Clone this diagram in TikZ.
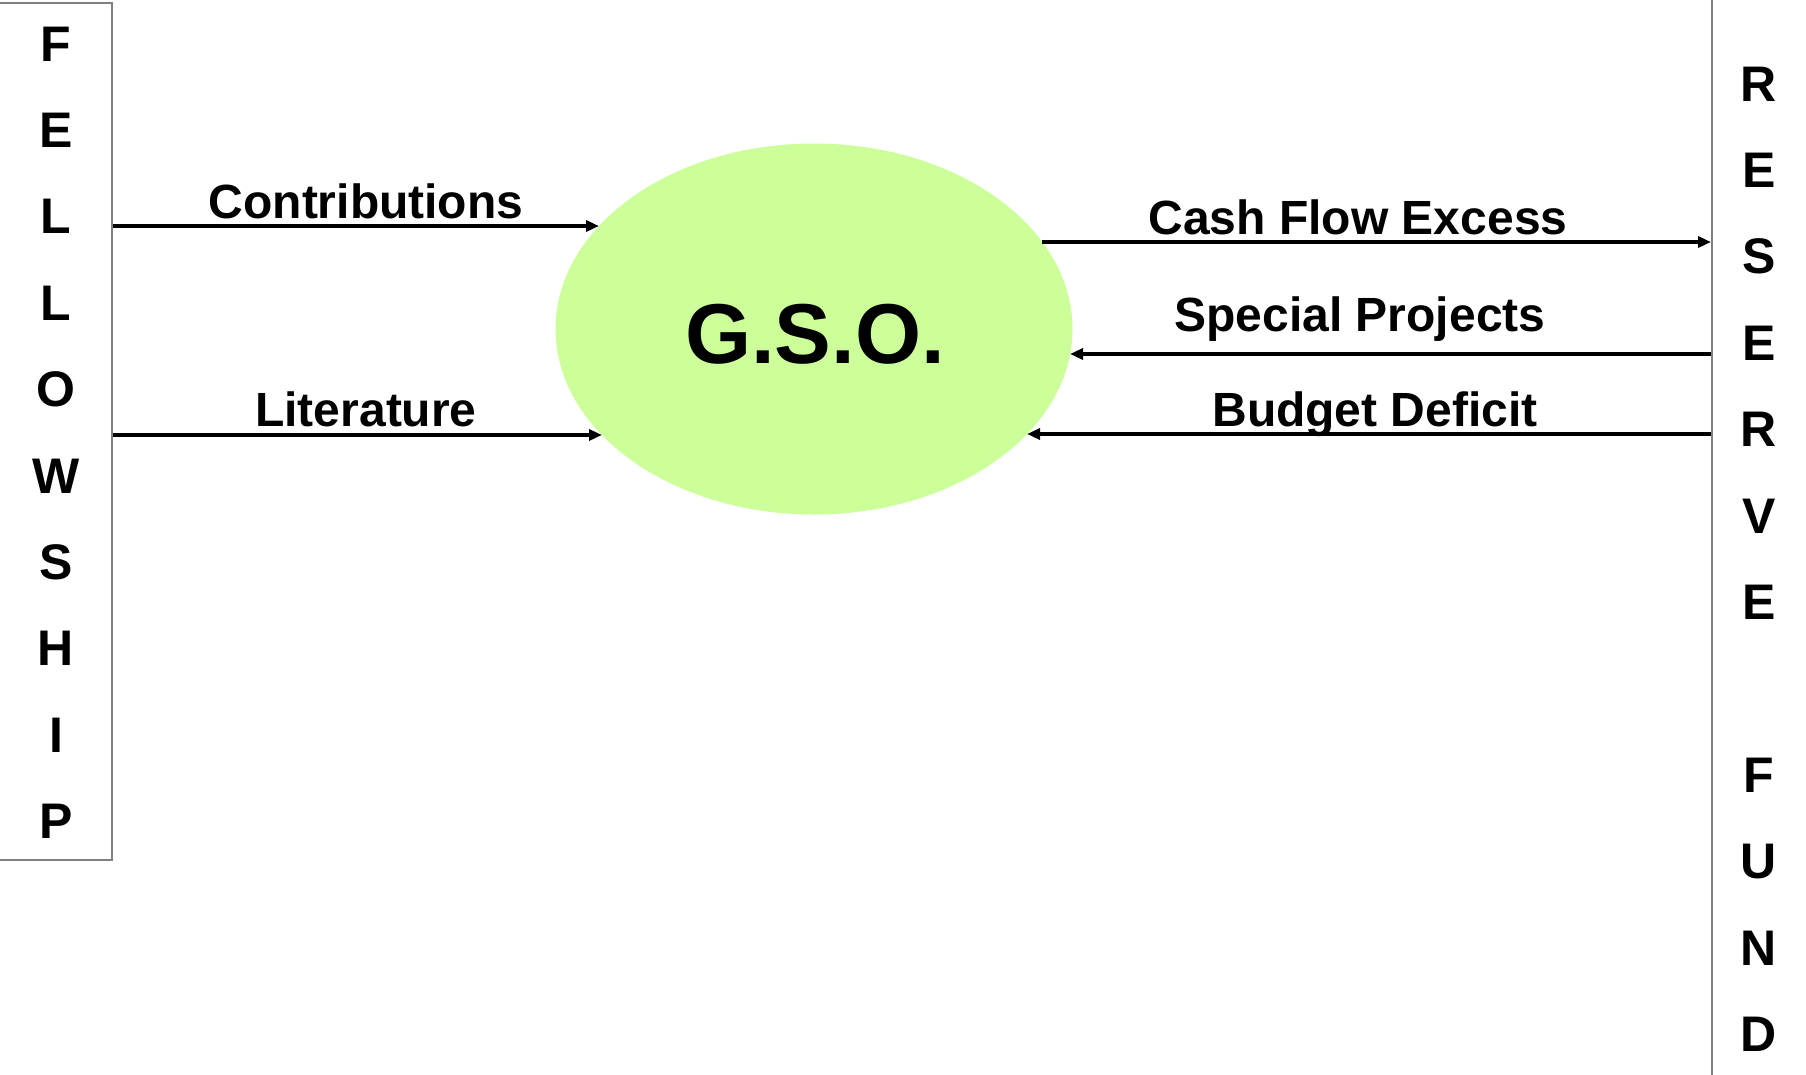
\documentclass[tikz,border=0pt]{standalone}
\usepackage{fontspec}
\setmainfont{Liberation Sans}
\usetikzlibrary{arrows.meta,shapes.geometric}
\definecolor{gsogreen}{RGB}{204,255,153}
\definecolor{boxgray}{RGB}{128,128,128}
\begin{document}
\begin{tikzpicture}[x=1pt,y=1pt,
  flow/.style={line width=3.4pt,-{Triangle[length=13pt,width=11pt]}},
  lbl/.style={font=\fontsize{48}{50}\selectfont\bfseries, anchor=base, inner sep=0pt},
  letter/.style={font=\fontsize{50}{52}\selectfont\bfseries, anchor=base, inner sep=0pt},
  sidebox/.style={draw=boxgray, line width=2pt, inner sep=0pt, anchor=north west}]
\clip (0,0) rectangle (1806,-1074);
\fill[white] (0,0) rectangle (1806,-1074);
% side boxes
\node[sidebox, minimum width=116pt, minimum height=857pt] (fel) at (-5,-2) {};
\node[sidebox, minimum width=200pt, minimum height=1200pt] (res) at (1711,10) {};
% vertical letters
\foreach \l [count=\i] in {F,E,L,L,O,W,S,H,I,P}
  \node[letter] (fl\i) at (56,{-61-86.4*(\i-1)}) {\l};
\foreach \l [count=\i] in {R,E,S,E,R,V,E}
  \node[letter] (rl\i) at (1759,{-101-86.4*(\i-1)}) {\l};
\foreach \l [count=\i from 9] in {F,U,N,D}
  \node[letter] (rl\i) at (1759,{-101-86.4*(\i-1)}) {\l};
% central ellipse
\node[ellipse, fill=gsogreen, minimum width=517pt, minimum height=371pt, inner sep=0pt, outer sep=0pt] (gso) at (814,-329) {};
\node[font=\fontsize{85}{85}\selectfont\bfseries, anchor=base, inner sep=0pt] (gsot) at (815,-363) {G.S.O.};
% connector end points on the side boxes
\coordinate (fc) at (fel.east |- 0,-226);
\coordinate (fl) at (fel.east |- 0,-435);
\coordinate (rc) at (res.west |- 0,-242);
\coordinate (rs) at (res.west |- 0,-354);
\coordinate (rb) at (res.west |- 0,-434);
% connector end points on the ellipse border
\coordinate (gc) at (599,-226);
\coordinate (gl) at (602,-435);
\coordinate (gx) at (1042,-242);
\coordinate (gs) at (1070,-354);
\coordinate (gb) at (1027,-434);
% connectors
\draw[flow] (fc) -- (gc);
\draw[flow] (fl) -- (gl);
\draw[flow] (gx) -- (rc);
\draw[flow] (rs) -- (gs);
\draw[flow] (rb) -- (gb);
% labels
\node[lbl] (lcon) at (366,-218) {Contributions};
\node[lbl] (llit) at (366,-426) {Literature};
\node[lbl] (lcash) at (1358,-234) {Cash Flow Excess};
\node[lbl] (lspec) at (1360,-331) {Special Projects};
\node[lbl] (lbud) at (1375,-426) {Budget Deficit};
\end{tikzpicture}
\end{document}
